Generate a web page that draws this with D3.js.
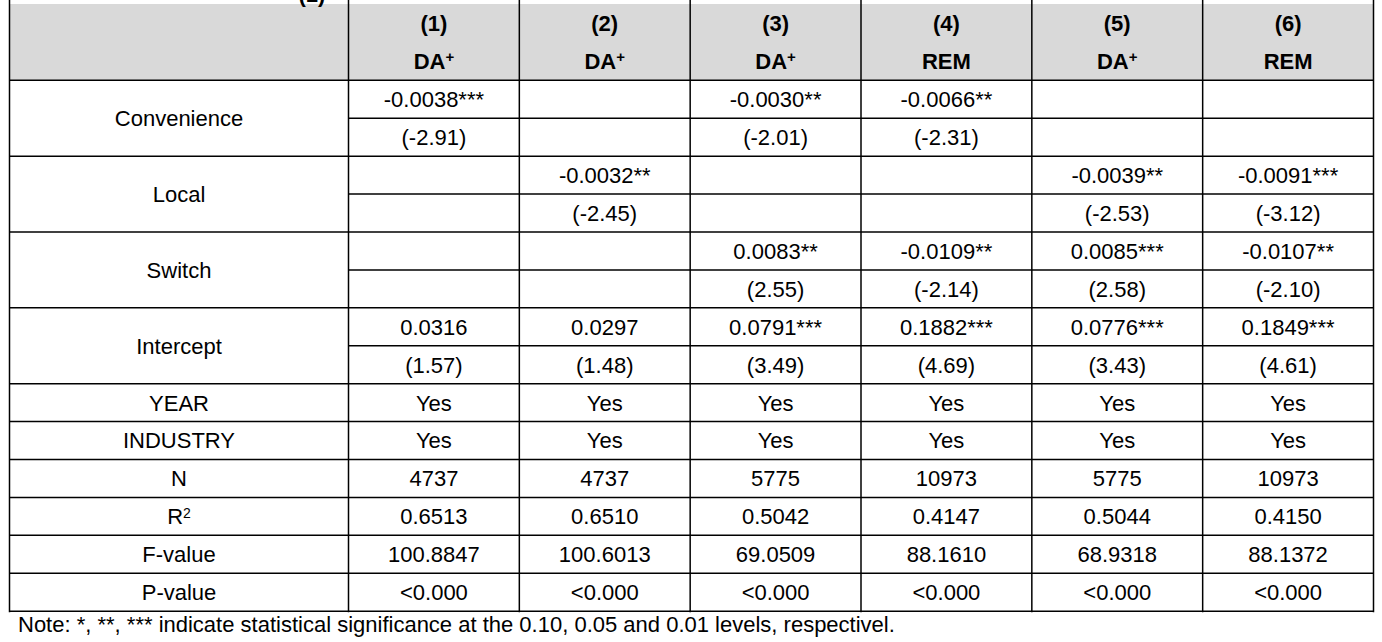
<!DOCTYPE html>
<head>
    <title>Regression table</title>
    <meta charset="utf-8">
    <script src="https://d3js.org/d3.v7.min.js"></script>
</head>
<body>
    <svg class="chart" width="1382" height="642"></svg>
</body>

<script>

// model columns
var models = ["(1)", "(2)", "(3)", "(4)", "(5)", "(6)"];
var depVars = ["DA", "DA", "DA", "REM", "DA", "REM"];

// explanatory variables: coefficient row + t-stat row
var varNames = ["Convenience", "Local", "Switch", "Intercept"];
var convCoef = ["-0.0038***", "", "-0.0030**", "-0.0066**", "", ""];
var convT    = ["(-2.91)", "", "(-2.01)", "(-2.31)", "", ""];
var localCoef = ["", "-0.0032**", "", "", "-0.0039**", "-0.0091***"];
var localT    = ["", "(-2.45)", "", "", "(-2.53)", "(-3.12)"];
var switchCoef = ["", "", "0.0083**", "-0.0109**", "0.0085***", "-0.0107**"];
var switchT    = ["", "", "(2.55)", "(-2.14)", "(2.58)", "(-2.10)"];
var interCoef = ["0.0316", "0.0297", "0.0791***", "0.1882***", "0.0776***", "0.1849***"];
var interT    = ["(1.57)", "(1.48)", "(3.49)", "(4.69)", "(3.43)", "(4.61)"];

// model statistics
var statNames = ["YEAR", "INDUSTRY", "N", "R", "F-value", "P-value"];
var yearFE = ["Yes", "Yes", "Yes", "Yes", "Yes", "Yes"];
var industryFE = ["Yes", "Yes", "Yes", "Yes", "Yes", "Yes"];
var nObs = ["4737", "4737", "5775", "10973", "5775", "10973"];
var rSquared = ["0.6513", "0.6510", "0.5042", "0.4147", "0.5044", "0.4150"];
var fValue = ["100.8847", "100.6013", "69.0509", "88.1610", "68.9318", "88.1372"];
var pValue = ["<0.000", "<0.000", "<0.000", "<0.000", "<0.000", "<0.000"];

var noteText = "Note: *, **, *** indicate statistical significance at the 0.10, 0.05 and 0.01 levels, respectivel.";

// build the body sub-rows
var bodyRows = [convCoef, convT, localCoef, localT, switchCoef, switchT, interCoef, interT,
                yearFE, industryFE, nObs, rSquared, fValue, pValue];

var left = 9.5, labelRight = 348.5, right = 1373.5;
var headTop = 4, headBottom = 80.3, tableBottom = 611.2;
var fontSize = 22;

var svg = d3.select(".chart")
    .style("font-family", "'Liberation Sans', Arial, sans-serif")
    .style("background", "#fff");

var x = d3.scaleBand()
    .domain(d3.range(models.length))
    .range([labelRight, right]);

var y = d3.scaleBand()
    .domain(d3.range(bodyRows.length))
    .range([headBottom, tableBottom]);

var yHead = d3.scaleBand()
    .domain([0, 1])
    .range([headTop, headBottom]);

// header background
svg.append("rect")
    .attr("x", left)
    .attr("y", headTop)
    .attr("width", right - left)
    .attr("height", headBottom - headTop)
    .attr("fill", "#d9d9d9");

// clipped caption remnant above the table (only its lower tips show)
svg.append("text")
    .attr("x", 312)
    .attr("y", 1.5)
    .attr("text-anchor", "middle")
    .style("font-size", fontSize + "px")
    .style("font-weight", "bold")
    .text("(1)");

// header text
var head = svg.append("g").attr("class", "head")
    .style("font-size", fontSize + "px")
    .style("font-weight", "bold")
    .attr("text-anchor", "middle");

head.selectAll("text.model")
    .data(models).enter()
    .append("text")
    .attr("class", "model")
    .attr("x", (d, i) => x(i) + x.bandwidth() / 2)
    .attr("y", yHead(0) + yHead.bandwidth() / 2)
    .attr("dy", "0.36em")
    .text(d => d);

var dep = head.selectAll("text.dep")
    .data(depVars).enter()
    .append("text")
    .attr("class", "dep")
    .attr("x", (d, i) => x(i) + x.bandwidth() / 2)
    .attr("y", yHead(1) + yHead.bandwidth() / 2)
    .attr("dy", "0.36em");
dep.append("tspan").text(d => d);
dep.filter(d => d == "DA").append("tspan")
    .attr("dy", "-0.5em")
    .style("font-size", "15px")
    .text("+");

// body cells
var body = svg.append("g").attr("class", "body")
    .style("font-size", fontSize + "px")
    .attr("text-anchor", "middle");

bodyRows.forEach(function(row, r) {
    body.selectAll("text.r" + r)
        .data(row).enter()
        .append("text")
        .attr("class", "r" + r)
        .attr("x", (d, i) => x(i) + x.bandwidth() / 2)
        .attr("y", y(r) + y.bandwidth() / 2)
        .attr("dy", "0.36em")
        .text(d => d);
});

// variable labels, spanning two sub-rows
body.selectAll("text.var")
    .data(varNames).enter()
    .append("text")
    .attr("class", "var")
    .attr("x", (left + labelRight) / 2)
    .attr("y", (d, i) => y(i * 2 + 1))
    .attr("dy", "0.36em")
    .text(d => d);

// stat labels
var stat = body.selectAll("text.stat")
    .data(statNames).enter()
    .append("text")
    .attr("class", "stat")
    .attr("x", (left + labelRight) / 2)
    .attr("y", (d, i) => y(8 + i) + y.bandwidth() / 2)
    .attr("dy", "0.36em");
stat.append("tspan").text(d => d);
stat.filter(d => d == "R").append("tspan")
    .attr("dy", "-0.45em")
    .style("font-size", "14px")
    .text("2");

// grid lines
var lines = svg.append("g").attr("class", "grid")
    .attr("stroke", "#000")
    .attr("stroke-width", 1.5);

// horizontal lines: header bottom, body sub-rows (label column only on variable boundaries)
var hLines = [];
for (var r = 0; r <= bodyRows.length; r++) {
    var yy = r == bodyRows.length ? tableBottom : y(r);
    var fullWidth = (r >= 8) || (r % 2 == 0);
    hLines.push({y: yy, x1: fullWidth ? left : labelRight, x2: right});
}
lines.selectAll("line.h")
    .data(hLines).enter()
    .append("line")
    .attr("class", "h")
    .attr("x1", d => d.x1)
    .attr("x2", d => d.x2)
    .attr("y1", d => d.y)
    .attr("y2", d => d.y);

// vertical lines
var vx = [left, labelRight].concat(models.map((d, i) => x(i) + x.bandwidth()));
lines.selectAll("line.v")
    .data(vx).enter()
    .append("line")
    .attr("class", "v")
    .attr("x1", d => d)
    .attr("x2", d => d)
    .attr("y1", 0)
    .attr("y2", tableBottom + 1);

// footnote
svg.append("text")
    .attr("x", 18)
    .attr("y", 632)
    .style("font-size", fontSize + "px")
    .text(noteText);

</script>

<style>
    body { margin: 0; }
    .chart { display: block; }
</style>
